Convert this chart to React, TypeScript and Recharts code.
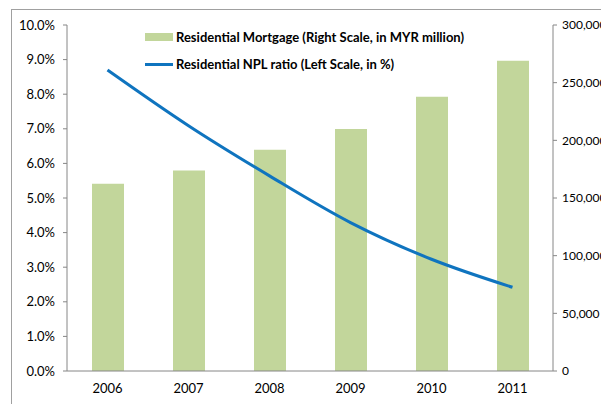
import { ComposedChart, Bar, Line, XAxis, YAxis } from "recharts"

const YEARS = ["2006", "2007", "2008", "2009", "2010", "2011"]
const MORTGAGE = [162300, 173800, 191900, 209800, 237800, 269100]
const NPL_RATIO = [8.7, 7.09, 5.64, 4.29, 3.23, 2.42]
const LEFT_TICKS = [0, 1, 2, 3, 4, 5, 6, 7, 8, 9, 10]
const RIGHT_TICKS = [0, 50000, 100000, 150000, 200000, 250000, 300000]
const BOUNDARY_TICKS = [0, 1, 2, 3, 4, 5, 6]

const data = YEARS.map((year, i) => ({
  year,
  mortgage: MORTGAGE[i],
  npl: NPL_RATIO[i],
}))

const AXIS = "#868686"
const BAR = "#c2d69b"
const LINE = "#0f74bf"
const FONT = "Lato, 'Liberation Sans', sans-serif"

function LegendBox() {
  const row = { display: "flex", alignItems: "center", height: 14 }
  const text = { fontSize: 13, fontWeight: 700, color: "#000", marginLeft: 3, whiteSpace: "nowrap" as const }
  return (
    <div style={{ position: "absolute", left: 133, top: 20, fontFamily: FONT }}>
      <div style={row}>
        <span style={{ width: 28, height: 8, background: BAR, display: "inline-block" }} />
        <span style={text}>Residential Mortgage (Right Scale, in MYR million)</span>
      </div>
      <div style={{ ...row, marginTop: 13 }}>
        <span style={{ width: 28, height: 3, background: LINE, display: "inline-block" }} />
        <span style={text}>Residential NPL ratio (Left Scale, in %)</span>
      </div>
    </div>
  )
}

export default function App() {
  const tickStyle = { fontSize: 13, fill: "#000", fontFamily: FONT }
  return (
    <div style={{ position: "relative", width: 601, height: 396, overflow: "hidden" }}>
      <div
        style={{
          position: "absolute",
          left: 3,
          top: 1,
          border: "1px solid #a0a0a0",
          width: 640,
          height: 420,
          background: "#fff",
        }}
      >
        <ComposedChart
          width={640}
          height={400}
          data={data}
          margin={{ top: 15, right: 39, bottom: 8, left: 0 }}
        >
          {/* tick marks sit on the category boundaries, like the original */}
          <XAxis
            xAxisId="a"
            type="number"
            domain={[0, 6]}
            ticks={BOUNDARY_TICKS}
            tick={false}
            tickSize={5}
            height={1}
            axisLine={{ stroke: AXIS }}
            tickLine={{ stroke: AXIS }}
          />
          <XAxis
            xAxisId="b"
            dataKey="year"
            height={30}
            axisLine={false}
            tickLine={false}
            tickSize={0}
            tickMargin={12}
            tick={tickStyle}
          />
          <YAxis
            yAxisId="left"
            domain={[0, 10]}
            ticks={LEFT_TICKS}
            width={55}
            tickSize={4}
            tickMargin={8}
            tickFormatter={(v: number) => v.toFixed(1) + "%"}
            axisLine={{ stroke: AXIS }}
            tickLine={{ stroke: AXIS }}
            tick={tickStyle}
          />
          <YAxis
            yAxisId="right"
            orientation="right"
            domain={[0, 300000]}
            ticks={RIGHT_TICKS}
            width={60}
            tickSize={4}
            tickMargin={5}
            tickFormatter={(v: number) => v.toLocaleString("en-US")}
            axisLine={{ stroke: AXIS }}
            tickLine={{ stroke: AXIS }}
            tick={{ ...tickStyle, fontSize: 12, textAnchor: "start" }}
          />
          <Bar
            xAxisId="b"
            yAxisId="right"
            dataKey="mortgage"
            fill={BAR}
            barSize={32}
            isAnimationActive={false}
          />
          <Line
            xAxisId="b"
            yAxisId="left"
            dataKey="npl"
            type="monotone"
            stroke={LINE}
            strokeWidth={3}
            dot={false}
            activeDot={false}
            isAnimationActive={false}
          />
        </ComposedChart>
        <LegendBox />
      </div>
    </div>
  )
}
